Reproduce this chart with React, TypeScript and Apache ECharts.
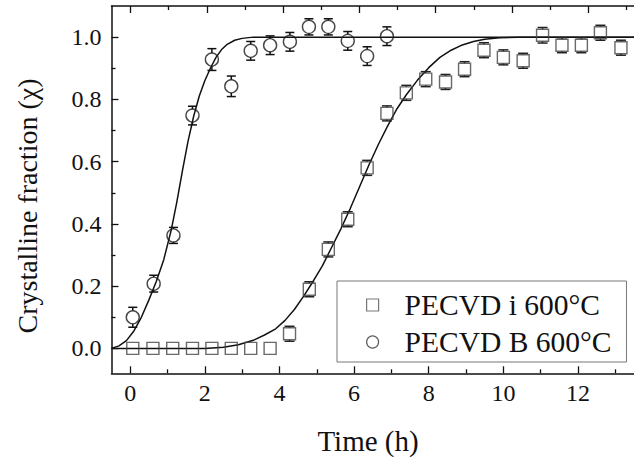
import React, { useEffect, useRef } from "react";
import * as echarts from "echarts";

// ---- data ----
const squareName = "PECVD i 600°C";
const circleName = "PECVD B 600°C";

const squareX = [0.07, 0.61, 1.14, 1.67, 2.19, 2.71, 3.23, 3.75, 4.27, 4.8, 5.31, 5.83, 6.35, 6.88, 7.4, 7.92, 8.45, 8.96, 9.48, 10.0, 10.53, 11.05, 11.57, 12.09, 12.6, 13.15];
const squareY = [0, 0, 0, 0, 0, 0, 0, 0, 0.047, 0.19, 0.318, 0.415, 0.58, 0.755, 0.821, 0.865, 0.856, 0.897, 0.958, 0.935, 0.924, 1.006, 0.974, 0.974, 1.014, 0.966];
const squareErr = [0, 0, 0, 0, 0, 0, 0, 0, 0.024, 0.022, 0.022, 0.022, 0.022, 0.024, 0.022, 0.022, 0.024, 0.024, 0.022, 0.024, 0.022, 0.025, 0.024, 0.024, 0.022, 0.024];

const circleX = [0.07, 0.63, 1.16, 1.67, 2.19, 2.71, 3.23, 3.75, 4.28, 4.79, 5.31, 5.83, 6.35, 6.88];
const circleY = [0.1, 0.208, 0.363, 0.748, 0.928, 0.842, 0.956, 0.974, 0.985, 1.033, 1.033, 0.988, 0.939, 1.003];
const circleErr = [0.032, 0.027, 0.022, 0.03, 0.035, 0.033, 0.03, 0.03, 0.03, 0.026, 0.026, 0.03, 0.03, 0.03];

// fitted curves
const fitBX = [-0.5, -0.3, -0.1, 0.1, 0.3, 0.5, 0.7, 0.9, 1.1, 1.25, 1.4, 1.55, 1.7, 1.85, 2.0, 2.15, 2.3, 2.45, 2.6, 2.8, 3.0, 3.3, 13.5];
const fitBY = [0, 0.008, 0.025, 0.056, 0.1, 0.155, 0.215, 0.285, 0.38, 0.47, 0.57, 0.665, 0.745, 0.81, 0.86, 0.9, 0.935, 0.96, 0.977, 0.99, 0.996, 1.0, 1.0];
const fitIX = [-0.5, 2.0, 2.5, 2.9, 3.3, 3.6, 3.9, 4.15, 4.4, 4.65, 4.9, 5.15, 5.4, 5.65, 5.9, 6.15, 6.4, 6.65, 6.9, 7.15, 7.4, 7.7, 8.0, 8.3, 8.6, 8.9, 9.2, 9.5, 9.9, 10.4, 13.5];
const fitIY = [0, 0, 0.004, 0.012, 0.026, 0.043, 0.063, 0.09, 0.125, 0.168, 0.215, 0.265, 0.325, 0.385, 0.45, 0.52, 0.59, 0.655, 0.715, 0.77, 0.815, 0.862, 0.902, 0.935, 0.958, 0.975, 0.986, 0.993, 0.998, 1.0, 1.0];

const xMajor = [0, 2, 4, 6, 8, 10, 12];
const xMinor = [1, 3, 5, 7, 9, 11, 13];
const yMajor = [0, 0.2, 0.4, 0.6, 0.8, 1.0];
const yMinor = [0.1, 0.3, 0.5, 0.7, 0.9];

const xTitle = "Time (h)";
const yTitle = "Crystalline fraction (χ)";

const FONT = '"Liberation Serif", "Times New Roman", Times, serif';
const INK = "#111";

function errRender(r: number, hw: number, color: string) {
  return (_params: any, api: any) => {
    const x = api.value(0);
    const y = api.value(1);
    const e = api.value(2);
    if (!e) return { type: "group", children: [] };
    const c = api.coord([x, y]);
    const t = api.coord([x, y + e])[1];
    const b = api.coord([x, y - e])[1];
    const ty = Math.min(t, c[1] - r - 1.5);
    const by = Math.max(b, c[1] + r + 1.5);
    const style = { stroke: color, lineWidth: 1.5 };
    return {
      type: "group",
      children: [
        { type: "line", shape: { x1: c[0], y1: ty, x2: c[0], y2: c[1] - r }, style },
        { type: "line", shape: { x1: c[0] - hw, y1: ty, x2: c[0] + hw, y2: ty }, style },
        { type: "line", shape: { x1: c[0], y1: c[1] + r, x2: c[0], y2: by }, style },
        { type: "line", shape: { x1: c[0] - hw, y1: by, x2: c[0] + hw, y2: by }, style },
      ],
    };
  };
}

export default function App() {
  const ref = useRef<HTMLDivElement>(null);
  useEffect(() => {
    if (!ref.current) return;
    const chart = echarts.init(ref.current, null, { renderer: "svg" });
    const axisLineStyle = { color: INK, width: 1.5 };
    const baseX = (min: number, max: number, pos: string, ticks: number[], len: number, showLine: boolean, showLabel: boolean) => ({
      type: "value",
      min,
      max,
      position: pos,
      axisLine: { show: showLine, onZero: false, lineStyle: axisLineStyle },
      axisTick: { show: true, inside: true, length: len, customValues: ticks, lineStyle: { color: INK, width: 1.3 } },
      axisLabel: showLabel
        ? { show: true, customValues: ticks, fontSize: 24, fontFamily: FONT, color: INK, margin: 8, formatter: (v: number) => String(v) }
        : { show: false },
      splitLine: { show: false },
    });
    const baseY = (ticks: number[], len: number, showLine: boolean, showLabel: boolean) => ({
      type: "value",
      min: -0.08,
      max: 1.1,
      position: "left",
      axisLine: { show: showLine, onZero: false, lineStyle: axisLineStyle },
      axisTick: { show: true, inside: true, length: len, customValues: ticks, lineStyle: { color: INK, width: 1.3 } },
      axisLabel: showLabel
        ? { show: true, customValues: ticks, fontSize: 24, fontFamily: FONT, color: INK, margin: 10, formatter: (v: number) => v.toFixed(1) }
        : { show: false },
      splitLine: { show: false },
    });

    chart.setOption({
      animation: false,
      backgroundColor: "#fff",
      grid: { left: 111.5, top: 6, right: -16.5, bottom: 85.7, containLabel: false },
      xAxis: [
        baseX(-0.5, 13.5, "bottom", xMajor, 7, true, true),
        baseX(-0.5, 13.5, "bottom", xMinor, 4, false, false),
        baseX(-0.5, 13.2, "top", xMajor, 7, true, false),
        baseX(-0.5, 13.2, "top", xMinor, 4, false, false),
      ],
      yAxis: [baseY(yMajor, 7, true, true), baseY(yMinor, 4, false, false)],
      legend: {
        orient: "vertical",
        left: 337,
        top: 281,
        padding: [9, 15, 5, 29],
        itemGap: 7,
        itemWidth: 12,
        itemHeight: 12,
        borderColor: "#777",
        borderWidth: 1,
        borderRadius: 0,
        textStyle: { fontSize: 29.5, fontFamily: FONT, color: INK, lineHeight: 30, padding: [0, 0, 0, 21] },
        data: [
          { name: squareName, icon: "rect", itemStyle: { color: "rgba(0,0,0,0)", borderColor: "#555", borderWidth: 1.2 } },
          { name: circleName, icon: "circle", itemStyle: { color: "rgba(0,0,0,0)", borderColor: "#333", borderWidth: 1.2 } },
        ],
      },
      graphic: [
        {
          type: "text",
          x: 368,
          y: 441,
          style: { text: xTitle, fontSize: 29, fontFamily: FONT, fill: INK, textAlign: "center", textVerticalAlign: "middle" },
        },
        {
          type: "text",
          x: 27,
          y: 206,
          rotation: Math.PI / 2,
          style: { text: yTitle, fontSize: 28, fontFamily: FONT, fill: INK, textAlign: "center", textVerticalAlign: "middle" },
        },
      ],
      series: [
        {
          name: "fit i",
          type: "line",
          data: fitIX.map((x, i) => [x, fitIY[i]]),
          showSymbol: false,
          smooth: false,
          lineStyle: { color: INK, width: 1.5 },
          z: 2,
        },
        {
          name: "fit B",
          type: "line",
          data: fitBX.map((x, i) => [x, fitBY[i]]),
          showSymbol: false,
          smooth: false,
          lineStyle: { color: INK, width: 1.5 },
          z: 2,
        },
        {
          name: squareName,
          type: "scatter",
          data: squareX.map((x, i) => [x, squareY[i]]),
          symbol: "rect",
          symbolSize: 12,
          itemStyle: { color: "rgba(0,0,0,0)", borderColor: "#444", borderWidth: 1.4 },
          z: 3,
        },
        {
          name: circleName,
          type: "scatter",
          data: circleX.map((x, i) => [x, circleY[i]]),
          symbol: "circle",
          symbolSize: 13,
          itemStyle: { color: "rgba(0,0,0,0)", borderColor: "#1a1a1a", borderWidth: 1.4 },
          z: 3,
        },
        {
          name: "err i",
          type: "custom",
          data: squareX.map((x, i) => [x, squareY[i], squareErr[i]]),
          encode: { x: 0, y: 1 },
          renderItem: errRender(6, 5, "#222"),
          z: 3,
        },
        {
          name: "err B",
          type: "custom",
          data: circleX.map((x, i) => [x, circleY[i], circleErr[i]]),
          encode: { x: 0, y: 1 },
          renderItem: errRender(6.5, 4.5, "#111"),
          z: 3,
        },
      ],
    });
    return () => chart.dispose();
  }, []);
  return <div ref={ref} style={{ position: "fixed", left: 0, top: 0, width: 634, height: 459 }} />;
}
